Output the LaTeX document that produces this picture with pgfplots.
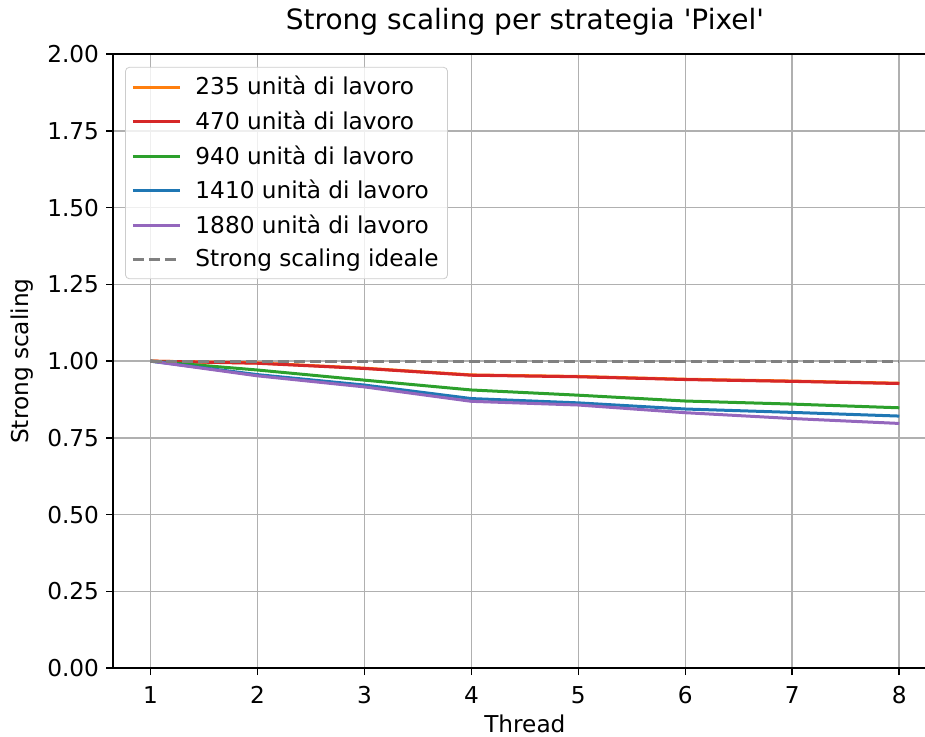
\documentclass[border=0pt]{standalone}
\usepackage{fontspec}
\setmainfont{DejaVu Sans}
\usepackage{pgfplots}
\pgfplotsset{compat=1.18}
\definecolor{tabOrange}{HTML}{FF7F0E}
\definecolor{tabRed}{HTML}{D62728}
\definecolor{tabGreen}{HTML}{2CA02C}
\definecolor{tabBlue}{HTML}{1F77B4}
\definecolor{tabPurple}{HTML}{9467BD}
\definecolor{gridc}{HTML}{B0B0B0}
\begin{document}
\begin{tikzpicture}
\begin{axis}[
  width=411.7pt, height=307pt, scale only axis,
  xmin=0.65, xmax=8.35, ymin=0, ymax=2,
  xtick={1,2,3,4,5,6,7,8},
  ytick={0,0.25,0.5,0.75,1,1.25,1.5,1.75,2},
  yticklabel style={/pgf/number format/.cd, fixed, fixed zerofill, precision=2},
  xticklabel style={yshift=-2pt},
  /pgf/number format/assume math mode=true,
  tick label style={font=\fontsize{11.6}{13.5}\selectfont},
  grid=major,
  major grid style={draw=gridc, line width=0.8pt},
  axis line style={line width=0.8pt},
  tick style={line width=0.8pt, black},
  tick align=outside, major tick length=3.5pt,
  xtick pos=bottom, ytick pos=left,
  title={Strong scaling per strategia \textquotesingle Pixel\textquotesingle},
  title style={font=\fontsize{14}{16}\selectfont, at={(0.5,1)}, anchor=base, yshift=6pt},
  xlabel={Thread}, ylabel={Strong scaling},
  label style={font=\fontsize{11.6}{13.5}\selectfont},
  xlabel style={at={(axis description cs:0.5,0)}, anchor=base, yshift=-32pt},
  legend style={at={(0.0146,0.979)}, anchor=north west, draw=black!20, rounded corners=2pt,
    fill=white, fill opacity=0.8, text opacity=1, font=\fontsize{11.6}{13.5}\selectfont,
    row sep=3.5pt, inner sep=3pt, nodes={inner sep=1.5pt}},
  legend cell align=left,
  legend image code/.code={\draw[#1] (0pt,0pt) -- (23.5pt,0pt); \path (29pt,0pt);},
]
\addplot[tabOrange, line width=1.5pt] coordinates {(1,1) (2,0.994) (3,0.977) (4,0.955) (5,0.950) (6,0.941) (7,0.935) (8,0.928)};
\addlegendentry{235 unità di lavoro}
\addplot[tabRed, line width=1.5pt] coordinates {(1,1) (2,0.993) (3,0.976) (4,0.954) (5,0.949) (6,0.940) (7,0.934) (8,0.927)};
\addlegendentry{470 unità di lavoro}
\addplot[tabGreen, line width=1.5pt] coordinates {(1,1) (2,0.971) (3,0.938) (4,0.906) (5,0.889) (6,0.870) (7,0.860) (8,0.848)};
\addlegendentry{940 unità di lavoro}
\addplot[tabBlue, line width=1.5pt] coordinates {(1,1) (2,0.956) (3,0.922) (4,0.878) (5,0.864) (6,0.844) (7,0.833) (8,0.821)};
\addlegendentry{1410 unità di lavoro}
\addplot[tabPurple, line width=1.5pt] coordinates {(1,1) (2,0.952) (3,0.916) (4,0.869) (5,0.857) (6,0.832) (7,0.813) (8,0.797)};
\addlegendentry{1880 unità di lavoro}
\addplot[gray, line width=1.5pt, dash pattern=on 5.55pt off 2.4pt] coordinates {(1,1) (2,1) (3,1) (4,1) (5,1) (6,1) (7,1) (8,1)};
\addlegendentry{Strong scaling ideale}
\coordinate (sw) at (rel axis cs:0,0);
\coordinate (ne) at (rel axis cs:1,1);
\end{axis}
\pgfresetboundingbox
\useasboundingbox ([shift={(-56.5pt,-34pt)}]sw) rectangle ([shift={(-5.85pt,27pt)}]ne);
\end{tikzpicture}
\end{document}
